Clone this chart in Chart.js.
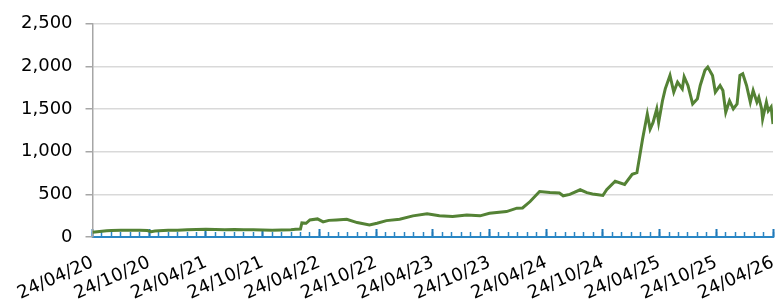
<!DOCTYPE html>
<html>
<head>
<meta charset="utf-8">
<script src="https://cdn.jsdelivr.net/npm/chart.js@4/dist/chart.umd.min.js"></script>
<style>
  html, body { margin: 0; padding: 0; background: #fff; }
  #wrap { width: 780px; height: 302px; }
</style>
</head>
<body>
<div id="wrap"><canvas id="priceChart"></canvas></div>
<script>
// months since 24/04/20 and the price
const months = [
  0, 0.5, 1, 1.5, 2, 3, 4, 5, 5.8, 6.2, 6.6, 7, 8, 9, 10, 11, 12, 13, 14, 15, 16, 17, 18, 19, 20, 21, 21.5, 22,
  22.15, 22.6, 23, 23.8, 24.4, 25, 25.8, 26.9, 28, 29.3, 30.1, 31.1, 32.5, 33.9, 35.4, 36.7, 38.1, 39.6, 41, 42,
  43.8, 44.9, 45.5, 46.3, 47.3, 48.4, 49.4, 49.8, 50.5, 51.6, 52.3, 52.9, 53.5, 54, 54.4, 55.3, 56.3, 57.1, 57.6,
  57.9, 58.2, 58.7, 59, 59.3, 59.7, 59.9, 60.3, 60.6, 61.1, 61.5, 61.9, 62.4, 62.6, 63, 63.5, 64, 64.3, 64.8,
  65.1, 65.6, 65.9, 66.4, 66.7, 67, 67.4, 67.8, 68.2, 68.5, 68.8, 69.2, 69.6, 69.9, 70.3, 70.5, 70.8, 70.9,
  71.3, 71.5, 71.8, 72
];
const prices = [
  55, 62, 68, 72, 75, 78, 80, 78, 76, 63, 70, 72, 78, 80, 85, 88, 90, 88, 86, 88, 85, 84, 82, 80, 82, 85, 90, 94,
  165, 161, 200, 212, 177, 195, 200, 208, 169, 141, 161, 192, 208, 248, 271, 248, 240, 259, 248, 279,
  298, 338, 340, 416, 534, 522, 515, 483, 500, 554, 520, 505, 495, 487, 554, 654, 617, 735, 754,
  950, 1148, 1442, 1265, 1340, 1501, 1344, 1595, 1737, 1894, 1700, 1815, 1737, 1878, 1777, 1560, 1620, 1777, 1954,
  1993, 1894, 1698, 1777, 1718, 1463, 1596, 1502, 1561, 1894, 1914, 1777, 1581, 1718, 1581, 1636, 1502, 1384,
  1581, 1479, 1525, 1325
];
const dateLabels = [
  '24/04/20', '24/10/20', '24/04/21', '24/10/21', '24/04/22', '24/10/22', '24/04/23',
  '24/10/23', '24/04/24', '24/10/24', '24/04/25', '24/10/25', '24/04/26'
];
const yTicks = [0, 500, 1000, 1500, 2000, 2500];

const FONT = { family: 'DejaVu Sans', size: 18 };
const BLUE = '#2a86c4';
const LAST = (dateLabels.length - 1) * 6;

const points = months.map((m, i) => ({ x: m, y: prices[i] }));

new Chart('priceChart', {
  type: 'line',
  data: {
    datasets: [{
      data: points,
      borderColor: '#548235',
      borderWidth: 3,
      pointRadius: 0,
      tension: 0
    }]
  },
  options: {
    responsive: true,
    maintainAspectRatio: false,
    animation: false,
    layout: { padding: { top: 16, right: 7, left: 8, bottom: 0 } },
    plugins: { legend: { display: false }, tooltip: { enabled: false } },
    scales: {
      x: {
        type: 'linear',
        min: 0,
        max: LAST,
        border: { color: BLUE, width: 2 },
        grid: { drawOnChartArea: false, tickLength: -5, tickColor: BLUE, tickWidth: 1.5 },
        ticks: {
          stepSize: 1,
          autoSkip: false,
          minRotation: 24,
          maxRotation: 24,
          padding: 20,
          color: '#000',
          font: FONT,
          callback: v => (v % 6 === 0 ? dateLabels[v / 6] : '')
        },
        afterFit: s => { s.paddingLeft = 0; s.paddingRight = 0; s.height = 65; }
      },
      // longer marks every six months, sitting on the zero line
      x2: {
        type: 'linear',
        position: { y: 0 },
        min: 0,
        max: LAST,
        border: { display: false },
        grid: { drawOnChartArea: false, tickLength: -8, tickColor: '#1f78b8', tickWidth: 2 },
        ticks: { stepSize: 6, display: false },
        afterFit: s => { s.height = 0; }
      },
      y: {
        min: yTicks[0],
        max: yTicks[yTicks.length - 1],
        border: { color: '#a6a6a6', width: 1.5 },
        grid: { color: '#d9d9d9', lineWidth: 1.5, tickLength: 7, tickColor: '#a6a6a6' },
        ticks: {
          stepSize: 500,
          padding: 13,
          color: '#000',
          font: FONT,
          callback: v => v.toLocaleString('en-US')
        }
      }
    }
  }
});
</script>
</body>
</html>
